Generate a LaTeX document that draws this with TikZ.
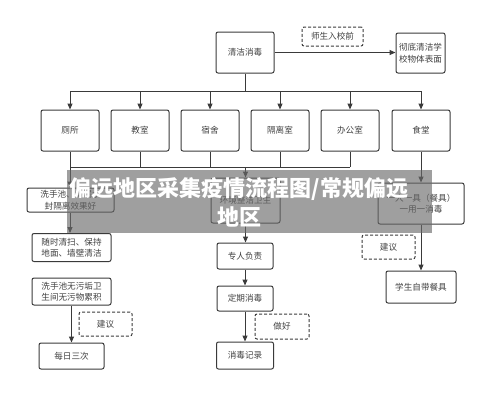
\documentclass[tikz,border=0pt]{standalone}
\usepackage{fontspec}
\newfontfamily\cjk{Noto Sans CJK SC}
\usetikzlibrary{arrows.meta}
\definecolor{ink}{HTML}{3A3A3A}
\definecolor{txt}{HTML}{404040}
\tikzset{
  box/.style={draw=ink, line width=1pt, rounded corners=2pt, inner sep=0pt,
    align=center, text=txt, font=\cjk\fontsize{8.6}{11.5}\selectfont},
  dbox/.style={box, dashed, dash pattern=on 3pt off 2pt},
  wire/.style={draw=ink, line width=1pt},
  arr/.style={wire, -{Triangle[length=6pt,width=5pt]}},
}
\begin{document}
\begin{tikzpicture}[x=1pt,y=-1pt]
\useasboundingbox (0,0) rectangle (500,405);
% top
\node[box, minimum width=58pt, minimum height=41pt] (qj) at (245,52.5) {清洁消毒};
\node[box, minimum width=49pt, minimum height=40pt] (cd) at (420.5,53) {彻底清洁学\\校物体表面};
\node[dbox, minimum width=61pt, minimum height=19pt] (sx) at (332.5,36.5) {师生入校前};
% row
\foreach \n/\x/\t in {cs/70/厕所, js/140/教室, ss/210/宿舍, gl/280/隔离室, bg/350/办公室, st/421/食堂}
  \node[box, minimum width=58pt, minimum height=41pt] (\n) at (\x,130.5) {\t};
% left column
\node[box, minimum width=87pt, minimum height=24pt] (ssc) at (70.5,200) {洗手池、地漏水\\封隔离效果好};
\node[box, minimum width=79pt, minimum height=28pt] (sq) at (71.5,247.5) {随时清扫、保持\\地面、墙壁清洁};
\node[box, minimum width=79pt, minimum height=27pt] (wg) at (71.5,291.5) {洗手池无污垢卫\\生间无污物累积};
\node[dbox, minimum width=53pt, minimum height=24pt] (jy1) at (105.5,324) {建议};
\node[box, minimum width=65pt, minimum height=26pt] (mr) at (71.5,356) {每日三次};
% middle column
\node[box, minimum width=69pt, minimum height=45pt] (hj) at (245.5,200.5) {环境整洁卫生};
\node[box, minimum width=56pt, minimum height=26pt] (zr) at (245,256) {专人负责};
\node[box, minimum width=56pt, minimum height=25pt] (dq) at (245,298.5) {定期消毒};
\node[dbox, minimum width=54pt, minimum height=25pt] (zh) at (282,326.5) {做好};
\node[box, minimum width=57pt, minimum height=27pt] (xj) at (245,355.5) {消毒记录};
% right column
\node[box, minimum width=86pt, minimum height=41pt] (yr) at (421,203.5) {一人一具（餐具）\\一用一消毒};
\node[dbox, minimum width=53pt, minimum height=24pt] (jy2) at (388.5,247) {建议};
\node[box, minimum width=70pt, minimum height=32pt] (xs) at (421,287) {学生自带餐具};
% connectors
\draw[arr] (qj.east) -- (qj.east -| cd.west);
\coordinate (bus1) at (245,91);
\draw[wire] (qj.south) -- (qj.south |- bus1);
\draw[wire] (bus1 -| cs.north) -- (bus1 -| st.north);
\foreach \n in {cs,js,ss,gl,bg,st}
  \draw[arr] (bus1 -| \n.north) -- (\n.north);
\coordinate (bus2) at (245,167);
\draw[wire] (bus2 -| cs.south) -- (bus2 -| bg.south);
\foreach \n in {js,ss,gl,bg}
  \draw[wire] (\n.south) -- (bus2 -| \n.south);
\draw[arr] (bus2 -| hj.north) -- (hj.north);
\draw[arr] (cs.south) -- (cs.south |- ssc.north);
\draw[arr] (ssc.south -| cs.south) -- (cs.south |- sq.north);
\draw[arr] (wg.south) -- (mr.north);
\draw[arr] (st.south) -- (st.south |- yr.north);
\draw[arr] (yr.south) -- (xs.north);
\draw[arr] (hj.south) -- (hj.south |- zr.north);
\draw[arr] (zr.south) -- (dq.north);
\draw[arr] (dq.south) -- (xj.north);
% banner
\node[fill=black!59, fill opacity=0.64, text opacity=1, minimum width=365pt, minimum height=63pt, inner sep=0pt] (bn) at (249.5,201.5) {};
\node[text=white, align=center, font=\cjk\bfseries\fontsize{22}{29}\selectfont, inner sep=0pt] (tt) at (239,202) {偏远地区采集疫情流程图/常规偏远\\地区};
\end{tikzpicture}
\end{document}
